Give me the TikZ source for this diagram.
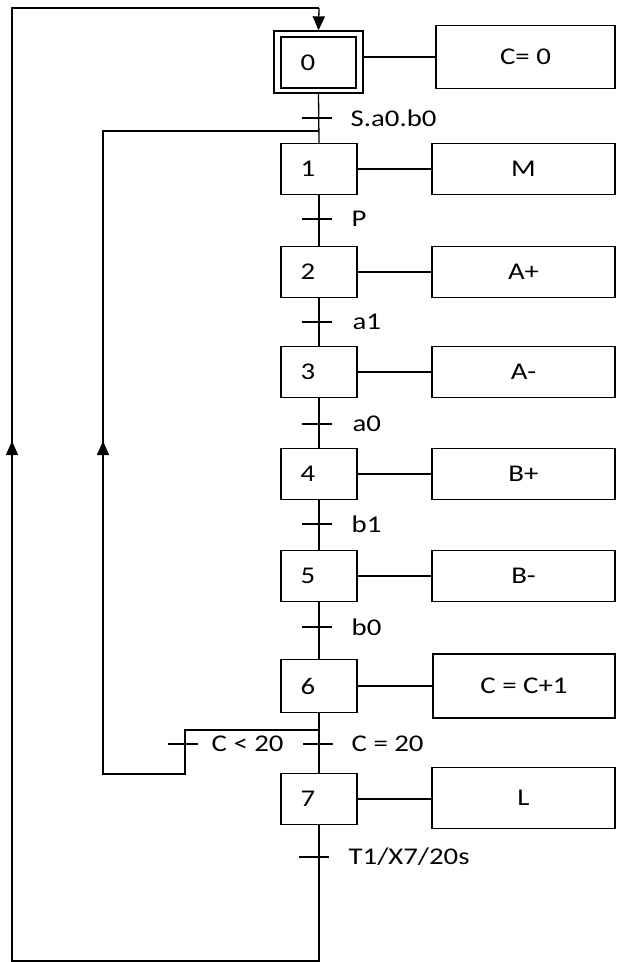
\documentclass[tikz,border=0pt]{standalone}
\usepackage{fontspec}
\setmainfont{Carlito}[FakeStretch=1.2]
\usetikzlibrary{arrows.meta}
\begin{document}
\begin{tikzpicture}[x=1pt,y=-1pt,
  line width=1.3pt,
  every node/.style={font=\fontsize{24}{28}\selectfont},
  stepbox/.style={draw,rectangle,inner sep=0pt,minimum width=76pt,minimum height=51pt},
  actbox/.style={draw,rectangle,inner sep=0pt,minimum width=183pt,minimum height=51pt},
  lbl/.style={anchor=west,inner sep=0pt},
  tip/.style={-{Triangle[length=14pt,width=12pt]}}]
\useasboundingbox (0,0) rectangle (617,962);
% initial step
\node[draw,rectangle,inner sep=0pt,minimum width=89pt,minimum height=62pt] (s0o) at (318.5,62) {};
\node[stepbox,minimum width=75pt] (s0) at (318.5,62.5) {};
\node at (308,62.5) {0};
% steps
\node[stepbox] (s1) at (319,169) {}; \node at (308,169) {1};
\node[stepbox] (s2) at (319,272) {}; \node at (308,272) {2};
\node[stepbox] (s3) at (319,372) {}; \node at (308,372) {3};
\node[stepbox] (s4) at (319,474) {}; \node at (308,474) {4};
\node[stepbox] (s5) at (319,576) {}; \node at (308,576) {5};
\node[stepbox,minimum height=53pt] (s6) at (319,686) {}; \node at (308,686) {6};
\node[stepbox] (s7) at (319,799) {}; \node at (308,799) {7};
% actions
\node[actbox,minimum width=179pt,minimum height=63pt] (a0) at (525.5,57) {C= 0};
\node[actbox] (a1) at (523.5,169) {M};
\node[actbox] (a2) at (523.5,272) {A+};
\node[actbox] (a3) at (523.5,372) {A-};
\node[actbox] (a4) at (523.5,474) {B+};
\node[actbox] (a5) at (523.5,576) {B-};
\node[actbox,minimum width=182pt,minimum height=64pt] (a6) at (524,686) {C = C+1};
\node[actbox,minimum height=61pt] (a7) at (523.5,798) {L};
\draw (s0o.east |- a0.west) -- (a0.west);
\foreach \i in {1,...,7} {\draw (s\i.east) -- (s\i.east -| a\i.west);}
% main vertical links
\draw (s0o.south) -- (s1.north);
\draw (s1.south) -- (s2.north);
\draw (s2.south) -- (s3.north);
\draw (s3.south) -- (s4.north);
\draw (s4.south) -- (s5.north);
\draw (s5.south) -- (s6.north);
\draw (s6.south) -- (s7.north);
% transitions
\coordinate (t0) at (317,118);
\coordinate (t1) at (317,219);
\coordinate (t2) at (317,322);
\coordinate (t3) at (317,424);
\coordinate (t4) at (317,524);
\coordinate (t5) at (317,627);
\coordinate (t6) at (318,744);
\coordinate (t7) at (314,857);
\coordinate (tb) at (183,744);
\foreach \t in {t0,t1,t2,t3,t4,t5,t6,t7,tb} {\draw ([xshift=-15pt]\t) -- ([xshift=15pt]\t);}
\node[lbl] at (350,118) {S.a0.b0};
\node[lbl] at (351,219) {P};
\node[lbl] at (352,322) {a1};
\node[lbl] at (352,424) {a0};
\node[lbl] at (351,524) {b1};
\node[lbl] at (351,627) {b0};
\node[lbl] at (351,744) {C = 20};
\node[lbl] at (211,744) {C < 20};
\node[lbl] at (348,857) {T1/X7/20s};
% loop back to step 1 (C < 20)
\coordinate (b1) at (319,730);
\coordinate (b2) at (185,730);
\coordinate (b3) at (185,774);
\coordinate (b4) at (103,774);
\coordinate (b5) at (103,131);
\coordinate (b6) at (319,131);
\coordinate (m1) at (103,441);
\coordinate (m1s) at (103,470);
\draw (b1) -- (b2) -- (b3) -- (b4) -- (b5) -- (b6);
\draw[tip] (m1s) -- (m1);
% loop back to step 0
\coordinate (o1) at (319,961);
\coordinate (o2) at (12,961);
\coordinate (o3) at (12,8);
\coordinate (o4) at (319,8);
\coordinate (m2) at (12,441);
\coordinate (m2s) at (12,470);
\draw (s7.south) -- (o1) -- (o2) -- (o3) -- (o4);
\draw[tip] (o4) -- (s0o.north);
\draw[tip] (m2s) -- (m2);
\end{tikzpicture}
\end{document}
